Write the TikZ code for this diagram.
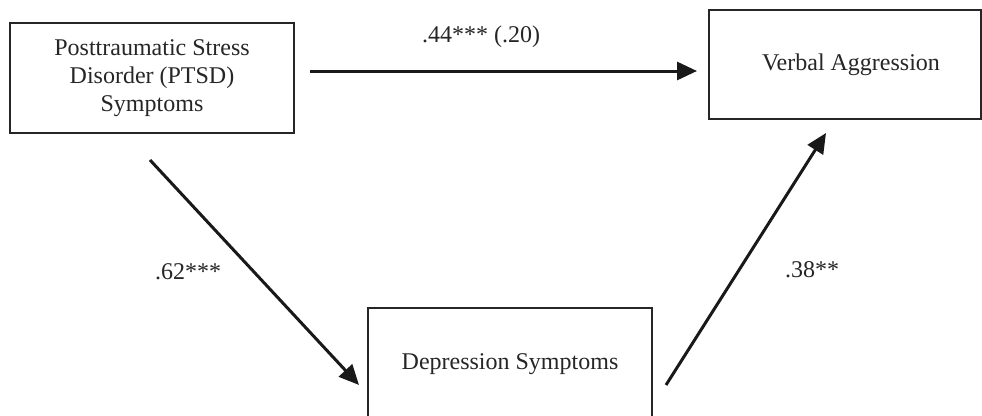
\documentclass[tikz,border=0pt]{standalone}
\usepackage{fontspec}
\setmainfont{Liberation Serif}
\usetikzlibrary{arrows.meta}
\begin{document}
\begin{tikzpicture}[x=1pt,y=-1pt,
  box/.style={draw=black!85,line width=2pt,inner sep=0pt,align=center,
    font=\fontsize{24}{28}\selectfont,text=black!85},
  conn/.style={line width=3pt,draw=black!90,-{Triangle[length=20pt,width=18pt]}},
  lab/.style={font=\fontsize{24}{28}\selectfont,text=black!85,inner sep=0pt}]
\useasboundingbox (0,0) rectangle (982,415);
\fill[white] (0,0) rectangle (982,415);
\clip (0,0) rectangle (982,415);
\node[box,minimum width=284pt,minimum height=110pt] (ptsd) at (152,78)
  {Posttraumatic Stress\\Disorder (PTSD)\\Symptoms};
\node[box,minimum width=272pt,minimum height=109pt] (va) at (845,64.5)
  {\hspace*{12pt}Verbal Aggression};
\node[box,minimum width=284pt,minimum height=112pt] (dep) at (510,364)
  {Depression Symptoms};
\coordinate (t1) at (310,71);
\coordinate (t2) at (697,71);
\coordinate (l1) at (150,160);
\coordinate (l2) at (359,385);
\coordinate (r1) at (666,385);
\coordinate (r2) at (826,133);
\draw[conn] (t1) -- (t2);
\draw[conn] (l1) -- (l2);
\draw[conn] (r1) -- (r2);
\node[lab] (la) at (481,37) {.44*** (.20)};
\node[lab] (lb) at (188,272) {.62***};
\node[lab] (lc) at (812,270) {.38**};
\end{tikzpicture}
\end{document}
